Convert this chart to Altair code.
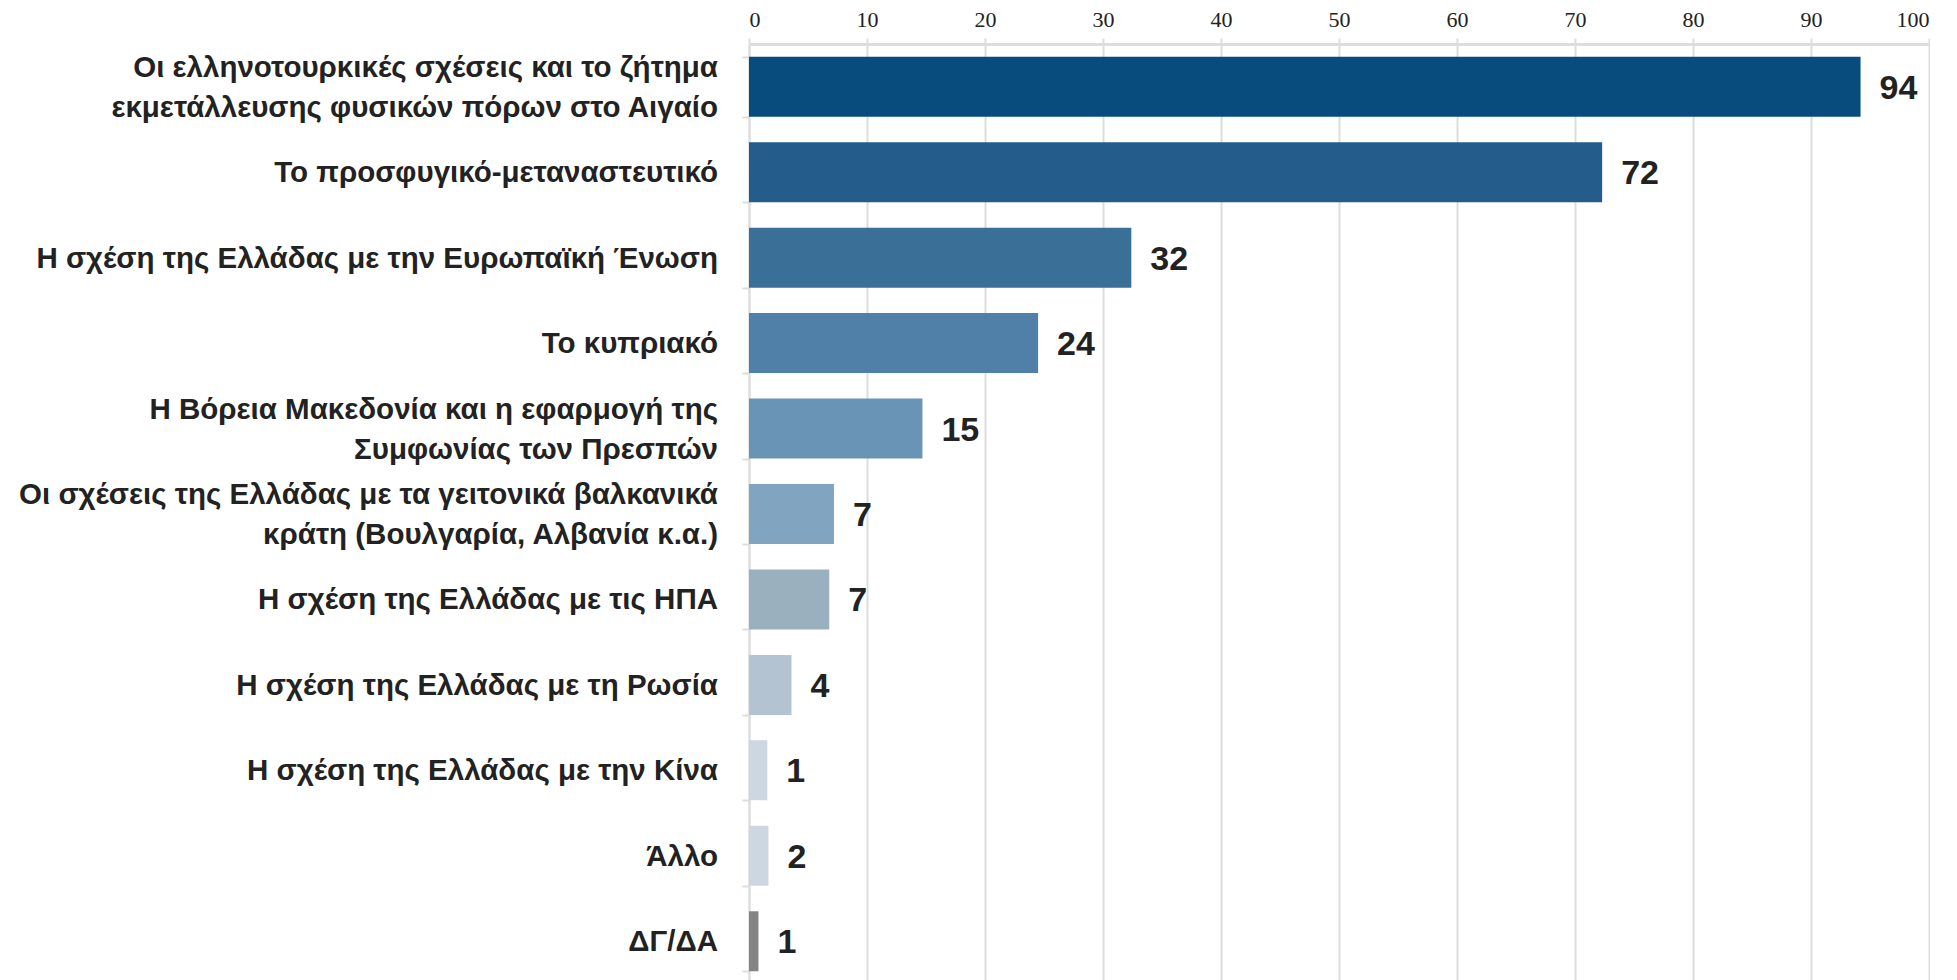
import altair as alt
import pandas as pd

categories = [
    ["Οι ελληνοτουρκικές σχέσεις και το ζήτημα", "εκμετάλλευσης φυσικών πόρων στο Αιγαίο"],
    ["Το προσφυγικό-μεταναστευτικό"],
    ["Η σχέση της Ελλάδας με την Ευρωπαϊκή Ένωση"],
    ["Το κυπριακό"],
    ["Η Βόρεια Μακεδονία και η εφαρμογή της", "Συμφωνίας των Πρεσπών"],
    ["Οι σχέσεις της Ελλάδας με τα γειτονικά βαλκανικά", "κράτη (Βουλγαρία, Αλβανία κ.α.)"],
    ["Η σχέση της Ελλάδας με τις ΗΠΑ"],
    ["Η σχέση της Ελλάδας με τη Ρωσία"],
    ["Η σχέση της Ελλάδας με την Κίνα"],
    ["Άλλο"],
    ["ΔΓ/ΔΑ"],
]
values = [94.2, 72.3, 32.4, 24.5, 14.7, 7.2, 6.8, 3.6, 1.55, 1.65, 0.8]
value_labels = ["94", "72", "32", "24", "15", "7", "7", "4", "1", "2", "1"]
colors = ["#00467A", "#1D5887", "#346B95", "#4A7CA4", "#6591B3", "#7DA1BF",
          "#98ADBC", "#B2C1CF", "#CBD6E0", "#CBD6E0", "#808080"]
x_ticks = [0, 10, 20, 30, 40, 50, 60, 70, 80, 90, 100]

PLOT_H = 940
PAD_INNER = 0.298
PAD_OUTER = 0.149
LINE_H = 40
n_cat = len(categories)
band_w = PLOT_H / (n_cat - PAD_INNER + 2 * PAD_OUTER) * (1 - PAD_INNER)

keys = [" / ".join(c) for c in categories]
df = pd.DataFrame({
    "key": keys,
    "lines": [list(c) for c in categories],
    "shift": [band_w / 2 - (len(c) - 1) * LINE_H / 2 + 1 for c in categories],
    "value": values,
    "label": value_labels,
    "color": colors,
})

y_scale = alt.Scale(paddingInner=PAD_INNER, paddingOuter=PAD_OUTER)

y_enc = alt.Y(
    "key:N",
    sort=keys,
    title=None,
    scale=y_scale,
    axis=alt.Axis(
        labels=False,
        tickBand="extent",
        tickSize=7,
        tickColor="#dddddd",
        tickWidth=2,
        domainColor="#dddddd",
        domainWidth=2,
        grid=False,
    ),
)

x_enc = alt.X(
    "value:Q",
    title=None,
    scale=alt.Scale(domain=[0, 100], nice=False),
    axis=alt.Axis(
        orient="top",
        values=x_ticks,
        labelFont="Liberation Serif",
        labelFontSize=22,
        labelColor="#222222",
        labelPadding=7,
        tickSize=6,
        tickColor="#dddddd",
        tickWidth=2,
        domainColor="#dddddd",
        domainWidth=3,
        gridColor="#dddddd",
        gridWidth=2,
    ),
)

bars = alt.Chart(df).mark_bar(opacity=0.97).encode(
    x=x_enc,
    y=y_enc,
    color=alt.Color("color:N", scale=None),
)

cat_text = alt.Chart(df).mark_text(
    align="right",
    baseline="middle",
    font="Liberation Sans",
    fontWeight="bold",
    fontSize=29.5,
    lineHeight=LINE_H,
    color="#222222",
).encode(
    x=alt.value(-31),
    y=alt.Y("key:N", sort=keys),
    yOffset=alt.YOffset("shift:Q", scale=None),
    text="lines",
)

texts = alt.Chart(df).mark_text(
    align="left",
    baseline="middle",
    dx=19,
    dy=2,
    font="Liberation Sans",
    fontWeight="bold",
    fontSize=34,
    color="#222222",
).encode(
    x=alt.X("value:Q"),
    y=alt.Y("key:N", sort=keys),
    text="label:N",
)

chart = (bars + texts + cat_text).properties(
    width=1180,
    height=PLOT_H,
    padding={"left": 11, "top": 0, "right": 0, "bottom": 0},
).configure_view(stroke=None).configure(background="white")

chart.save("out.html", embed_options={"renderer": "svg", "actions": False})
